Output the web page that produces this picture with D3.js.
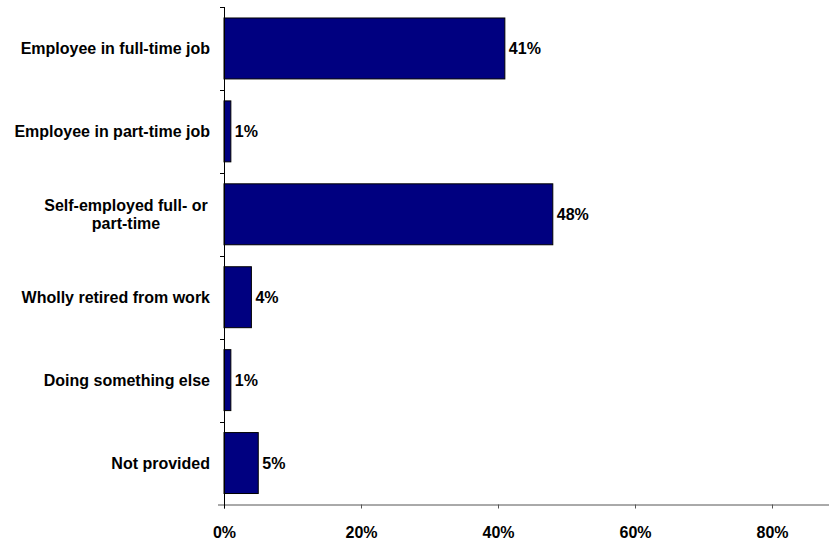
<!DOCTYPE html>
<html><head><meta charset="utf-8">
<script src="https://cdn.jsdelivr.net/npm/d3@7"></script>
<style>
html,body{margin:0;padding:0;background:#fff;}
svg{display:block;}
text{font-family:"Liberation Sans",Arial,sans-serif;font-weight:bold;fill:#000;}
</style></head>
<body>
<svg id="chart" width="829" height="543"></svg>
<script>
const categories = [
  ["Employee in full-time job"],
  ["Employee in part-time job"],
  ["Self-employed full- or", "part-time"],
  ["Wholly retired from work"],
  ["Doing something else"],
  ["Not provided"]
];
const values = [41, 1, 48, 4, 1, 5];
const tickValues = [0, 20, 40, 60, 80];

const svg = d3.select("#chart");
const plotLeft = 224, plotTop = 7, plotBottom = 504.5;
const fs = 16;
const x = d3.scaleLinear().domain([0, 100]).range([plotLeft, plotLeft + 685]);
const y = d3.scaleBand().domain(d3.range(categories.length)).range([plotTop, plotBottom]).paddingInner(0.265).paddingOuter(0.1325);

// bars
svg.selectAll("rect.bar").data(values).join("rect")
  .attr("class", "bar")
  .attr("x", x(0))
  .attr("y", (d, i) => y(i))
  .attr("width", d => x(d) - x(0))
  .attr("height", y.bandwidth())
  .attr("fill", "#000080")
  .attr("stroke", "#000")
  .attr("stroke-width", 1);

// value labels
svg.selectAll("text.val").data(values).join("text")
  .attr("class", "val")
  .attr("x", d => x(d) + 4)
  .attr("y", (d, i) => y(i) + y.bandwidth() / 2)
  .attr("dy", "0.35em")
  .attr("font-size", fs)
  .text(d => d + "%");

// x axis
const xAxis = d3.axisBottom(x).tickValues(tickValues).tickFormat(d => d + "%").tickSize(4).tickSizeOuter(0);
const gx = svg.append("g").attr("transform", `translate(0,${plotBottom})`).call(xAxis);
gx.select(".domain").attr("stroke", "#555").attr("d", `M${plotLeft - 6},0.5H829`);
gx.selectAll(".tick line").attr("stroke", "#555");
gx.selectAll(".tick text").attr("font-size", fs).attr("y", 22).attr("fill", "#000")
  .style("font-family", '"Liberation Sans",Arial,sans-serif').style("font-weight", "bold");

// y axis line and ticks
const yAxisG = svg.append("g");
yAxisG.append("line").attr("x1", plotLeft + 0.5).attr("x2", plotLeft + 0.5).attr("y1", plotTop).attr("y2", plotBottom + 4).attr("stroke", "#000");
const boundaries = d3.range(categories.length + 1).map(i => plotTop + i * (plotBottom - plotTop) / categories.length);
yAxisG.selectAll("line.tk").data(boundaries.slice(0, -1)).join("line")
  .attr("class", "tk")
  .attr("x1", plotLeft - 4).attr("x2", plotLeft)
  .attr("y1", d => Math.round(d) + 0.5).attr("y2", d => Math.round(d) + 0.5)
  .attr("stroke", "#000");

// category labels
const lab = svg.selectAll("text.cat").data(categories).join("text")
  .attr("class", "cat")
  .attr("font-size", fs)
  .attr("text-anchor", d => d.length > 1 ? "middle" : "end")
  .attr("y", (d, i) => y(i) + y.bandwidth() / 2);
lab.each(function(d) {
  const t = d3.select(this);
  const n = d.length;
  const lh = 18;
  d.forEach((line, k) => {
    t.append("tspan")
      .attr("x", n > 1 ? 126 : 210)
      .attr("dy", k === 0 ? (0.35 * fs - (n - 1) * lh / 2) : lh)
      .text(line);
  });
});
</script>
</body></html>
